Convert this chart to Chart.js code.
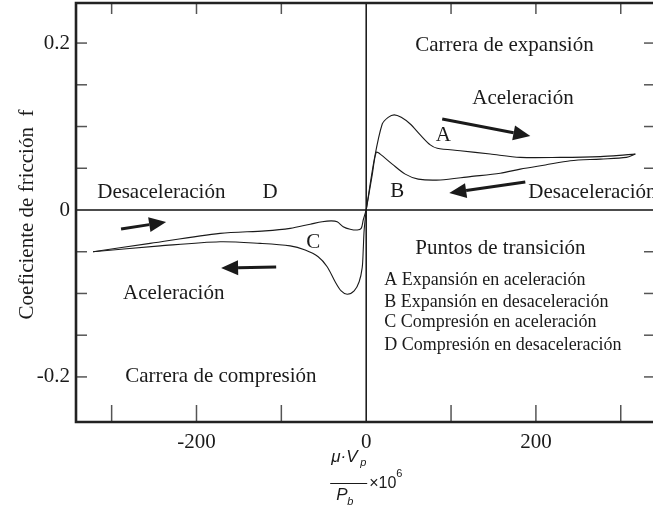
<!DOCTYPE html>
<html>
<head>
<meta charset="utf-8">
<script src="https://cdn.jsdelivr.net/npm/chart.js@4/dist/chart.umd.min.js"></script>
<style>
  html, body { margin: 0; padding: 0; background: #fff; }
  #wrap { width: 653px; height: 508px; position: relative; }
</style>
</head>
<body>
<div id="wrap"><canvas id="chart"></canvas></div>
<script>
// Axis ticks
const xTicks = [-300, -200, -100, 100, 200, 300];
const xTickLabels = ["-200", "0", "200"];
const xTickValues = [-200, 0, 200];
const yTicks = [-0.2, -0.15, -0.1, -0.05, 0.05, 0.1, 0.15, 0.2];
const yTickLabels = ["0.2", "0", "-0.2"];
const yTickValues = [0.2, 0, -0.2];

// Expansion stroke: A (acceleration, upper) and B (deceleration, lower)
const expAccelX = [0, 9.4, 18.9, 25.9, 33.0, 41.3, 51.9, 63.7, 75.5, 83.7, 110.8, 146.2, 181.6, 228.8, 275.9, 305.4, 317.2];
const expAccelY = [0, 0.060, 0.103, 0.111, 0.114, 0.111, 0.103, 0.090, 0.078, 0.074, 0.071, 0.067, 0.063, 0.063, 0.064, 0.066, 0.067];
const expDecelX = [317.2, 306.6, 275.9, 240.6, 211.1, 181.6, 158.0, 122.6, 87.3, 61.3, 46.0, 30.7, 16.5, 11.8, 7.1, 0];
const expDecelY = [0.067, 0.063, 0.061, 0.059, 0.054, 0.049, 0.044, 0.040, 0.036, 0.037, 0.043, 0.055, 0.067, 0.069, 0.042, 0];

// Compression stroke: C (acceleration, lower) and D (deceleration, upper)
const compAccelX = [0, -2.4, -3.5, -4.7, -8.3, -14.2, -22.4, -29.5, -36.6, -46.0, -56.6, -71.9, -89.6, -125.0, -172.2, -242.9, -321.9];
const compAccelY = [0, -0.024, -0.048, -0.069, -0.086, -0.097, -0.101, -0.097, -0.086, -0.068, -0.056, -0.048, -0.043, -0.040, -0.038, -0.043, -0.050];
const compDecelX = [-321.9, -254.7, -172.2, -119.1, -89.6, -66.0, -51.9, -41.3, -34.2, -27.1, -18.9, -10.6, -5.9, -3.5, 0];
const compDecelY = [-0.050, -0.040, -0.028, -0.025, -0.022, -0.017, -0.014, -0.013, -0.014, -0.020, -0.023, -0.024, -0.022, -0.012, 0];

// Direction arrows (tail -> tip)
const arrowTailX = [89.6, 187.5, -288.9, -106.1];
const arrowTailY = [0.109, 0.0335, -0.0228, -0.0683];
const arrowTipX = [193.4, 97.9, -235.8, -171.0];
const arrowTipY = [0.0886, 0.0204, -0.0144, -0.0695];

// Text annotations
const noteTexts = [
  "Carrera de expansión", "Aceleración", "A", "B", "Desaceleración",
  "Puntos de transición", "Desaceleración", "D", "C", "Aceleración", "Carrera de compresión"
];
const noteX = [57.8, 125, 90.8, 36.6, 191, 57.8, -317, -113.2, -62.5, -286.6, -284];
const noteY = [0.1976, 0.134, 0.0898, 0.0216, 0.0204, -0.0467, 0.0204, 0.0204, -0.0395, -0.1006, -0.2];
const noteAlign = ["left", "left", "center", "center", "left", "left", "left", "center", "center", "left", "left"];

const legendLines = [
  "A Expansión en aceleración",
  "B Expansión en desaceleración",
  "C Compresión en aceleración",
  "D Compresión en desaceleración"
];
const legendY = [-0.0838, -0.110, -0.135, -0.162];
const legendX = 21.2;

const serif = "'Liberation Serif', 'Times New Roman', serif";
const sans = "'Liberation Sans', Arial, sans-serif";
const ink = "#1a1a1a";

const toPoints = (xs, ys) => xs.map((v, i) => ({ x: v, y: ys[i] }));

const curveSet = (label, xs, ys) => ({
  label: label,
  data: toPoints(xs, ys),
  showLine: true,
  borderColor: ink,
  borderWidth: 1.1,
  pointRadius: 0,
  tension: 0.3,
  fill: false,
});

// Frame, ticks, zero lines, texts and arrows
const overlay = {
  id: "overlay",
  beforeDatasetsDraw(chart) {
    const { ctx, chartArea: a, scales: { x, y } } = chart;
    const seg = (x1, y1, x2, y2) => {
      ctx.beginPath();
      ctx.moveTo(x1, y1);
      ctx.lineTo(x2, y2);
      ctx.stroke();
    };
    ctx.save();
    const x0 = x.getPixelForValue(0);
    const y0 = y.getPixelForValue(0);
    ctx.strokeStyle = "#111";
    ctx.lineWidth = 1.5;
    seg(a.left, y0, a.right, y0);
    seg(x0, a.top, x0, a.bottom);

    ctx.strokeStyle = "#555";
    ctx.lineWidth = 1.5;
    xTicks.forEach((v) => {
      const px = x.getPixelForValue(v);
      seg(px, a.bottom, px, a.bottom - 17);
      seg(px, a.top, px, a.top + 11);
    });
    yTicks.forEach((v) => {
      const py = y.getPixelForValue(v);
      seg(a.left, py, a.left + 11, py);
      seg(a.right, py, a.right - 9, py);
    });

    ctx.strokeStyle = "#222";
    ctx.lineWidth = 2.6;
    ctx.beginPath();
    ctx.moveTo(a.right + 3, a.top);
    ctx.lineTo(a.left, a.top);
    ctx.lineTo(a.left, a.bottom);
    ctx.lineTo(a.right + 3, a.bottom);
    ctx.stroke();
    ctx.restore();
  },
  afterDatasetsDraw(chart) {
    const { ctx, chartArea: a, scales: { x, y } } = chart;
    ctx.save();
    ctx.fillStyle = ink;

    // tick labels
    ctx.font = "21px " + serif;
    ctx.textBaseline = "middle";
    ctx.textAlign = "center";
    xTickValues.forEach((v, i) => ctx.fillText(xTickLabels[i], x.getPixelForValue(v), a.bottom + 20));
    ctx.textAlign = "right";
    yTickValues.forEach((v, i) => ctx.fillText(yTickLabels[i], a.left - 6, y.getPixelForValue(v)));

    // notes
    noteTexts.forEach((t, i) => {
      ctx.textAlign = noteAlign[i];
      ctx.fillText(t, x.getPixelForValue(noteX[i]), y.getPixelForValue(noteY[i]));
    });
    ctx.font = "18px " + serif;
    ctx.textAlign = "left";
    legendLines.forEach((t, i) => ctx.fillText(t, x.getPixelForValue(legendX), y.getPixelForValue(legendY[i])));

    // arrows
    ctx.strokeStyle = ink;
    ctx.lineWidth = 3;
    arrowTailX.forEach((tx, i) => {
      const x1 = x.getPixelForValue(tx), y1 = y.getPixelForValue(arrowTailY[i]);
      const x2 = x.getPixelForValue(arrowTipX[i]), y2 = y.getPixelForValue(arrowTipY[i]);
      const ang = Math.atan2(y2 - y1, x2 - x1);
      const len = 17, half = 7.5;
      const bx = x2 - len * Math.cos(ang), by = y2 - len * Math.sin(ang);
      ctx.beginPath();
      ctx.moveTo(x1, y1);
      ctx.lineTo(bx, by);
      ctx.stroke();
      ctx.beginPath();
      ctx.moveTo(x2, y2);
      ctx.lineTo(bx + half * Math.sin(ang), by - half * Math.cos(ang));
      ctx.lineTo(bx - half * Math.sin(ang), by + half * Math.cos(ang));
      ctx.closePath();
      ctx.fill();
    });

    // y axis title
    ctx.save();
    ctx.translate(33, (a.top + a.bottom) / 2 + 2);
    ctx.rotate(-Math.PI / 2);
    ctx.font = "21px " + serif;
    ctx.textAlign = "center";
    ctx.textBaseline = "alphabetic";
    ctx.fillText("Coeficiente de fricción  f", 0, 0);
    ctx.restore();

    // x axis title: (mu . Vp / Pb) x 10^6
    const cx = x.getPixelForValue(0) - 18;
    ctx.textBaseline = "alphabetic";
    ctx.textAlign = "left";
    ctx.font = "italic 17px " + sans;
    ctx.fillText("\u03BC\u00B7V", cx - 17, 462);
    ctx.font = "italic 11px " + sans;
    ctx.fillText("p", cx + 12, 466);
    ctx.font = "italic 17px " + sans;
    ctx.fillText("P", cx - 12, 500);
    ctx.font = "italic 11px " + sans;
    ctx.fillText("b", cx - 1, 505);
    ctx.strokeStyle = ink;
    ctx.lineWidth = 1;
    ctx.beginPath();
    ctx.moveTo(cx - 18, 483.5);
    ctx.lineTo(cx + 19, 483.5);
    ctx.stroke();
    ctx.font = "16px " + sans;
    ctx.fillText("\u00D710", cx + 21, 488);
    ctx.font = "11px " + sans;
    ctx.fillText("6", cx + 48, 477);
    ctx.restore();
  },
};

new Chart(document.getElementById("chart"), {
  type: "scatter",
  data: {
    datasets: [
      curveSet("A", expAccelX, expAccelY),
      curveSet("B", expDecelX, expDecelY),
      curveSet("C", compAccelX, compAccelY),
      curveSet("D", compDecelX, compDecelY),
    ],
  },
  options: {
    responsive: true,
    maintainAspectRatio: false,
    animation: false,
    layout: { padding: { left: 76, top: 3, right: 0, bottom: 86 } },
    scales: {
      x: { type: "linear", min: -342, max: 338, display: false },
      y: { type: "linear", min: -0.254, max: 0.248, display: false },
    },
    plugins: {
      legend: { display: false },
      tooltip: { enabled: false },
    },
  },
  plugins: [overlay],
});
</script>
</body>
</html>
